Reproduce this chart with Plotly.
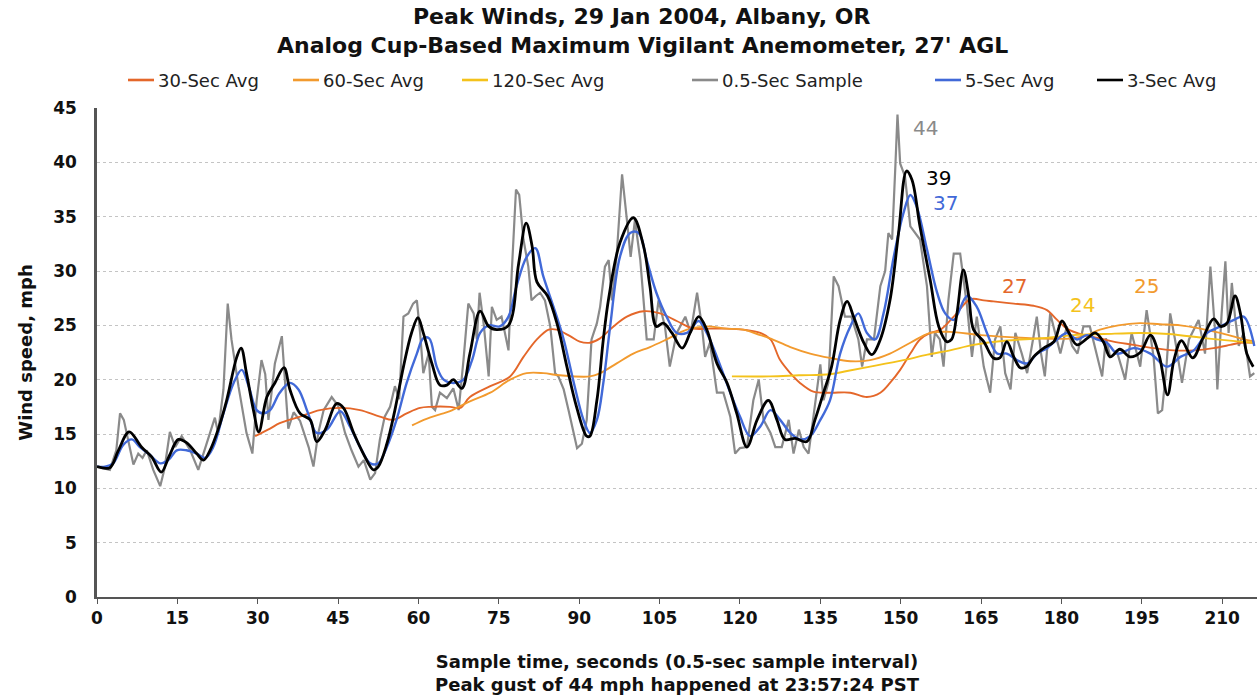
import plotly.graph_objects as go

# ---- 0.5-second raw samples (turning points), seconds / mph ----
sample_t = [0, 2.4, 3.6, 4.3, 5.0, 6.8, 7.7, 8.5, 9.3, 10.5, 11.8, 12.6, 13.6, 14.6, 15.8, 17.4,
            18.9, 19.9, 21.1, 22.0, 22.6, 23.6, 24.4, 25.1, 26.4, 27.9, 29.0, 29.8, 30.7, 31.4,
            32.0, 33.2, 34.5, 35.0, 35.7, 36.7, 37.9, 39.5, 40.4, 41.3, 42.3, 43.8, 45.0, 46.3,
            47.5, 48.8, 49.8, 51.0, 51.9, 52.8, 53.7, 54.7, 55.6, 56.4, 57.2, 58.1, 59.0, 59.7,
            60.3, 60.9, 61.9, 62.5, 63.1, 64.0, 65.3, 66.5, 67.5, 68.4, 69.3, 70.3, 70.9, 71.4,
            72.2, 73.1, 73.7, 74.6, 75.5, 76.8, 77.4, 78.2, 78.8, 79.6, 80.5, 81.1, 81.9, 82.7,
            83.6, 84.6, 85.5, 86.1, 87.1, 88.0, 88.9, 89.6, 90.5, 91.4, 92.3, 93.3, 93.9, 94.8,
            95.5, 96.1, 97.0, 98.0, 98.9, 99.6, 100.4, 101.4, 102.6, 103.9, 104.8, 106.0, 106.9,
            108.2, 109.8, 110.8, 112.0, 112.9, 113.5, 114.4, 115.7, 116.9, 118.2, 119.1, 120.0,
            121.3, 122.5, 123.5, 124.4, 125.7, 126.6, 127.8, 129.1, 130.0, 131.0, 131.9, 132.8,
            133.7, 135.0, 135.6, 136.5, 137.5, 138.4, 139.6, 140.8, 142.1, 142.8, 143.7, 145.0,
            146.2, 147.1, 147.7, 148.4, 149.0, 149.4, 149.9, 150.8, 151.8, 152.7, 153.6, 154.9,
            155.8, 156.4, 157.3, 158.0, 158.9, 159.9, 161.1, 162.4, 163.3, 164.2, 165.5, 166.7,
            167.6, 168.6, 169.5, 170.5, 171.4, 172.6, 173.6, 174.8, 175.4, 176.2, 176.9, 177.9,
            178.9, 179.8, 181.0, 182.0, 183.0, 184.1, 185.3, 186.6, 187.6, 188.3, 189.1, 190.4,
            191.9, 193.1, 194.7, 195.9, 197.2, 198.0, 198.8, 199.6, 200.3, 201.2, 202.5, 203.8,
            205.6, 206.8, 207.8, 208.7, 209.1, 209.9, 210.6, 211.2, 211.8, 212.4, 213.1, 214.0,
            215.2, 216.0]
sample_v = [12.0, 11.7, 13.5, 16.9, 16.3, 12.2, 13.2, 12.8, 13.5, 11.7, 10.2, 11.8, 15.2, 13.8, 14.8, 13.5,
            11.7, 13.2, 15.1, 16.5, 15.1, 19.1, 27.0, 23.7, 19.4, 15.1, 13.2, 18.1, 21.8, 20.5,
            16.3, 21.5, 24.0, 20.0, 15.5, 17.0, 16.2, 13.8, 12.0, 15.1, 17.2, 18.4, 17.6, 15.1,
            13.5, 12.0, 12.6, 10.8, 11.4, 14.5, 16.6, 17.5, 19.4, 18.2, 25.8, 26.1, 27.0, 27.3,
            24.3, 20.6, 22.4, 17.5, 17.2, 18.8, 18.3, 19.2, 17.2, 21.8, 27.0, 26.1, 23.7, 28.0,
            25.0, 20.3, 26.7, 25.5, 25.8, 22.7, 29.8, 37.5, 37.0, 32.9, 30.4, 27.3, 27.7, 28.0,
            27.3, 24.9, 20.6, 20.3, 19.1, 17.2, 15.1, 13.7, 14.1, 16.3, 23.7, 25.2, 26.7, 30.4,
            31.0, 27.3, 31.5, 38.9, 34.7, 31.3, 34.7, 31.0, 23.7, 23.7, 27.3, 24.9, 21.2,
            24.3, 25.8, 24.3, 28.0, 24.9, 22.1, 23.4, 18.8, 18.8, 16.6, 13.2, 13.7,
            13.8, 18.1, 20.0, 16.3, 15.1, 13.8, 13.8, 16.3, 13.2, 15.4, 13.8, 13.2,
            16.6, 21.4, 18.1, 19.7, 29.5, 28.6, 25.8, 25.8, 23.7, 21.2, 23.7, 23.7,
            28.6, 30.0, 33.5, 32.9, 39.6, 44.4, 39.9, 38.7, 34.1, 33.5, 32.9, 28.6,
            22.1, 24.3, 23.7, 21.2, 27.3, 31.6, 31.6, 26.7, 22.1, 25.8, 21.2, 18.8,
            23.7, 24.9, 20.6, 19.1, 24.3, 22.4, 20.6, 24.0, 25.8, 22.4, 20.3, 26.1,
            24.0, 22.4, 24.9, 23.1, 22.4, 24.9, 24.9, 22.4, 20.3, 23.8, 22.1, 22.5,
            20.0, 24.3, 21.2, 26.4, 22.1, 16.9, 17.2, 21.2, 26.1, 23.7, 19.7, 23.7,
            25.5, 22.4, 30.4, 24.3, 19.1, 26.1, 30.9, 24.3, 28.9, 25.8, 23.1, 24.3,
            20.3, 20.6]

# ---- 5-second running average ----
avg5_t = [0, 1.5, 3.0, 4.9, 6.5, 8.0, 9.6, 11.8, 13.3, 14.9, 16.7, 18.6, 20.2, 21.7, 23.6, 25.5,
          27.0, 28.3, 29.8, 31.0, 32.3, 34.1, 36.0, 37.6, 39.4, 41.0, 42.9, 45.4, 47.2, 49.1,
          51.0, 52.5, 54.1, 55.9, 57.8, 59.7, 60.9, 62.0, 63.4, 64.7, 66.5, 68.4, 70.0, 71.5,
          73.1, 75.2, 76.8, 78.3, 80.2, 81.8, 83.3, 85.2, 87.1, 89.0, 90.8, 92.0, 93.3, 94.5,
          95.8, 97.6, 99.5, 101.1, 102.6, 104.4, 106.3, 108.2, 110.1, 112.3, 113.8, 115.7,
          118.2, 120.0, 121.9, 123.8, 125.7, 127.5, 129.4, 131.2, 133.1, 135.0, 136.8, 138.7,
          140.6, 142.1, 143.7, 145.2, 146.8, 148.7, 150.5, 151.8, 153.0, 154.9, 156.8, 158.3,
          159.9, 162.4, 164.2, 166.1, 168.0, 169.8, 171.7, 173.6, 175.5, 177.3, 179.2, 181.0,
          182.9, 184.8, 186.6, 188.5, 190.4, 193.5, 196.6, 199.7, 202.2, 204.7, 207.2, 209.7,
          212.2, 214.0, 216.0]
avg5_v = [12.0, 12.0, 12.3, 14.0, 14.5, 13.8, 13.2, 12.3, 12.6, 13.5, 13.5, 13.2, 12.8, 13.8, 16.9, 19.7,
          20.9, 19.4, 17.2, 16.9, 17.2, 18.8, 19.7, 19.1, 16.9, 15.1, 15.4, 17.1, 15.7, 13.8,
          12.3, 12.3, 13.8, 16.3, 19.7, 22.4, 23.8, 23.8, 21.2, 20.0, 19.7, 20.0, 21.8, 24.3,
          25.0, 24.9, 25.8, 28.6, 31.3, 32.1, 29.5, 26.7, 23.7, 19.7, 16.3, 15.1, 16.3, 19.7,
          25.0, 31.3, 33.5, 33.5, 31.0, 28.0, 25.8, 24.3, 24.3, 25.4, 24.3, 22.1,
          18.8, 16.6, 14.8, 15.7, 17.2, 16.3, 15.1, 14.5, 14.8, 16.3, 18.1, 22.4,
          24.9, 26.1, 24.3, 23.7, 26.1, 31.3, 35.3, 37.0, 35.9, 32.0, 28.0, 26.1,
          25.5, 27.7, 26.7, 24.3, 22.4, 22.4, 21.8, 21.5, 22.4, 22.9, 23.7, 24.3,
          23.7, 24.1, 23.7, 23.4, 22.4, 22.9, 22.4, 21.2, 22.1, 22.7, 24.3, 24.9,
          25.5, 25.8, 23.1]

# ---- 3-second running average ----
avg3_t = [0, 2.4, 4.0, 6.0, 8.3, 10.2, 12.0, 13.5, 15.2, 16.7, 18.6, 19.9, 21.1, 22.6, 24.2, 26.1,
          26.9, 27.9, 29.2, 30.2, 31.7, 33.2, 34.9, 36.0, 37.9, 39.8, 41.0, 42.6, 44.7, 46.0,
          47.9, 49.7, 51.6, 52.5, 54.1, 55.6, 57.2, 58.7, 59.9, 60.9, 62.5, 64.0, 65.3, 66.5,
          68.1, 69.6, 71.5, 73.1, 74.6, 76.8, 78.7, 80.1, 81.2, 82.1, 84.1, 86.0, 87.7, 89.5,
          91.4, 92.0, 93.3, 94.5, 95.5, 97.6, 100.1, 102.0, 103.2, 104.4, 105.7, 107.3, 109.2,
          110.7, 112.3, 113.8, 115.7, 117.6, 119.4, 121.3, 123.2, 125.3, 126.9, 128.4, 130.3,
          132.5, 134.0, 135.6, 137.1, 138.7, 140.0, 141.2, 143.1, 144.6, 146.2, 148.0, 149.6,
          151.1, 152.1, 153.6, 155.5, 157.1, 158.6, 159.5, 160.5, 161.7, 162.7, 163.6, 165.5,
          167.3, 168.5, 169.8, 171.1, 172.3, 173.5, 174.8, 176.7, 178.6, 180.1, 181.3, 182.9,
          184.8, 186.3, 187.8, 189.1, 190.9, 192.8, 194.7, 196.6, 198.2, 199.8, 201.0, 202.4,
          204.5, 206.3, 208.4, 209.7, 210.9, 212.4, 213.4, 214.6, 215.8]
avg3_v = [12.0, 11.9, 13.5, 15.2, 13.8, 12.9, 11.5, 13.0, 14.5, 14.2, 13.2, 12.6, 13.5, 15.4, 18.1, 22.1,
          22.9, 20.6, 17.2, 15.2, 18.4, 19.7, 21.1, 19.1, 16.9, 16.3, 14.3, 15.4, 17.8, 17.4,
          15.1, 13.2, 11.7, 12.0, 14.1, 17.2, 21.2, 24.3, 25.7, 24.3, 21.5, 19.5, 19.5, 20.0,
          19.2, 22.4, 26.3, 24.9, 24.6, 25.0, 30.7, 34.4, 32.3, 29.0, 27.7, 24.9, 21.2, 17.5,
          14.8, 14.8, 18.1, 23.7, 27.5, 32.6, 34.9, 32.3, 28.6, 24.9, 25.2, 24.3, 22.9,
          24.3, 25.8, 24.6, 21.5, 19.7, 16.9, 13.8, 16.3, 18.1, 16.3, 14.5, 14.6,
          14.3, 16.3, 18.8, 21.2, 25.5, 27.2, 25.8, 23.4, 22.3, 23.7, 27.3, 33.5,
          39.2, 38.4, 34.1, 29.2, 24.9, 23.5, 23.7, 26.1, 30.1, 27.7, 24.6, 23.5,
          22.0, 22.0, 23.5, 22.1, 21.1, 21.2, 22.1, 22.9, 23.5, 25.4, 24.4, 23.2,
          23.8, 24.3, 23.5, 22.1, 22.8, 22.1, 22.5, 24.1, 22.3, 18.6, 21.8, 23.6,
          22.0, 23.7, 25.6, 24.9, 25.2, 27.7, 26.1, 22.4, 21.2]

# ---- 30-second running average ----
avg30_t = [29.5, 32.3, 34.1, 37.9, 41.6, 45.4, 49.1, 52.8, 55.3, 57.8, 60.3, 62.2, 65.9, 67.8, 69.6,
           73.4, 77.1, 79.6, 82.1, 84.3, 85.8, 88.3, 90.1, 92.0, 93.9, 96.4, 98.9, 102.0, 105.1,
           108.2, 111.3, 114.4, 117.5, 120.6, 123.8, 125.7, 127.5, 129.4, 131.2, 133.7, 136.8,
           140.6, 143.7, 146.2, 148.0, 149.9, 151.8, 153.6, 155.5, 157.4, 159.9, 163.0, 165.5,
           167.3, 171.1, 174.8, 177.3, 179.2, 181.0, 184.2, 187.2, 189.7, 193.5, 197.2, 201.0,
           204.7, 208.4, 211.5, 213.4, 216.0]
avg30_v = [14.8, 15.5, 16.0, 16.6, 17.2, 17.4, 17.2, 16.6, 16.3, 16.9, 17.4, 17.5, 17.5, 17.4, 18.4,
           19.4, 20.3, 22.1, 23.7, 24.6, 24.6, 24.0, 23.5, 23.4, 23.8, 24.9, 25.8, 26.3, 26.1,
           25.4, 24.7, 24.7, 24.7, 24.6, 24.3, 23.7, 21.8, 20.6, 19.7, 18.9, 18.8,
           18.8, 18.4, 18.8, 19.7, 20.9, 22.4, 23.7, 24.3, 24.6, 25.8, 27.4, 27.3,
           27.2, 27.0, 26.8, 26.4, 25.5, 24.7, 24.1, 23.8, 23.5, 23.2, 22.9, 22.7,
           22.7, 22.9, 23.2, 23.4, 23.4]

# ---- 60-second running average ----
avg60_t = [58.8, 61.5, 64.0, 65.9, 69.6, 73.4, 77.1, 80.2, 83.3, 86.4, 92.0, 93.9, 97.0, 100.1, 103.2,
           106.3, 110.1, 113.8, 117.5, 120.6, 123.8, 125.6, 129.4, 133.1, 136.8, 140.6, 144.3,
           148.0, 151.8, 155.5, 159.2, 165.0, 175.0, 182.0, 184.8, 187.2, 190.6, 194.6, 198.4,
           202.2, 205.9, 209.6, 213.4, 216.0]
avg60_v = [15.8, 16.4, 16.8, 17.1, 18.0, 18.8, 20.0, 20.6, 20.6, 20.4, 20.3, 20.6, 21.5, 22.4, 23.0,
           23.7, 24.6, 24.9, 24.7, 24.6, 24.1, 23.8, 23.0, 22.4, 22.0, 21.7, 21.8,
           22.4, 23.4, 24.3, 24.4, 24.1, 23.8, 23.8, 24.1, 24.6, 25.0, 25.2, 25.1,
           25.0, 24.7, 24.3, 23.8, 23.5]

# ---- 120-second running average ----
avg120_t = [118.5, 125.6, 131.0, 136.8, 140.0, 144.3, 150.5, 155.0, 159.2, 163.6, 169.9, 176.0,
            182.3, 188.0, 194.6, 200.0, 207.1, 213.4, 216.0]
avg120_v = [20.3, 20.3, 20.4, 20.5, 20.8, 21.2, 21.8, 22.3, 22.7, 23.2, 23.6, 23.8,
            24.1, 24.2, 24.3, 24.2, 23.8, 23.5, 23.4]

x_ticks = list(range(0, 211, 15))
y_ticks = list(range(0, 46, 5))

C30, C60, C120 = "#E4672A", "#F29A2E", "#F4C21B"
CGRAY, CBLUE, CBLACK = "#8A8A8A", "#4169D8", "#000000"

FONT = "DejaVu Sans"

# plot-area geometry in pixels (used to place the header texts)
W, H = 1259, 698
ML, MR, MT, MB = 97, 2, 108, 101
PW, PH = W - ML - MR, H - MT - MB


def px_x(p):
    return (p - ML) / PW


def px_y(p):
    return (H - MB - p) / PH


fig = go.Figure()


def add(name, t, v, color, width, shape="linear"):
    fig.add_trace(go.Scatter(
        x=t, y=v, mode="lines", name=name, showlegend=False,
        line=dict(color=color, width=width, shape=shape),
        hoverinfo="skip",
    ))


add("0.5-Sec Sample", sample_t, sample_v, CGRAY, 2.2)
add("30-Sec Avg", avg30_t, avg30_v, C30, 1.9, "spline")
add("60-Sec Avg", avg60_t, avg60_v, C60, 1.9, "spline")
add("120-Sec Avg", avg120_t, avg120_v, C120, 1.9, "spline")
add("5-Sec Avg", avg5_t, avg5_v, CBLUE, 2.4, "spline")
add("3-Sec Avg", avg3_t, avg3_v, CBLACK, 2.8, "spline")

# key row across the top: line swatch + label
key_items = [
    ("30-Sec Avg", C30, 128),
    ("60-Sec Avg", C60, 293),
    ("120-Sec Avg", C120, 462),
    ("0.5-Sec Sample", CGRAY, 692),
    ("5-Sec Avg", CBLUE, 935),
    ("3-Sec Avg", CBLACK, 1097),
]
KEY_Y = 80
for label, col, x0 in key_items:
    fig.add_shape(type="line", xref="paper", yref="paper",
                  x0=px_x(x0), x1=px_x(x0 + 26), y0=px_y(KEY_Y), y1=px_y(KEY_Y),
                  line=dict(color=col, width=2.6))
    fig.add_annotation(x=px_x(x0 + 28), y=px_y(KEY_Y), xref="paper", yref="paper",
                       text=label, showarrow=False, xanchor="left", yanchor="middle",
                       font=dict(family=FONT, size=18, color="#222"))

# two-line heading
for line, ypix in [("Peak Winds, 29 Jan 2004, Albany, OR", 17),
                   ("Analog Cup-Based Maximum Vigilant Anemometer, 27' AGL", 45)]:
    fig.add_annotation(x=px_x(642), y=px_y(ypix), xref="paper", yref="paper",
                       text=line, showarrow=False, xanchor="center", yanchor="middle",
                       font=dict(family=FONT, size=22, color="#111", weight="bold"))

# peak value callouts, text taken from each series maximum
callouts = [
    (sample_v, CGRAY, 154.6, 43.2),
    (avg3_v, CBLACK, 157.0, 38.6),
    (avg5_v, CBLUE, 158.3, 36.3),
    (avg30_v, C30, 171.2, 28.6),
    (avg120_v, C120, 183.9, 26.9),
    (avg60_v, C60, 195.8, 28.6),
]
for vals, col, ax_, ay_ in callouts:
    fig.add_annotation(
        x=ax_, y=ay_, xref="x", yref="y", text=str(int(max(vals))),
        showarrow=False, font=dict(family=FONT, size=20, color=col),
    )

fig.update_layout(
    width=W, height=H,
    margin=dict(l=ML, r=MR, t=MT, b=MB),
    paper_bgcolor="white", plot_bgcolor="white",
    showlegend=False,
)

fig.update_xaxes(
    range=[0, 216.5], tickvals=x_ticks, ticktext=[str(v) for v in x_ticks],
    showgrid=False, zeroline=False,
    showline=True, linecolor="#555", linewidth=1.5,
    ticks="outside", ticklen=5, tickcolor="#555", tickwidth=1.2,
    tickfont=dict(family=FONT, size=17, color="#111", weight="bold"),
    title=dict(text="Sample time, seconds (0.5-sec sample interval)<br>Peak gust of 44 mph happened at 23:57:24 PST",
               font=dict(family=FONT, size=18, color="#111", weight="bold"), standoff=28),
)
fig.update_yaxes(
    range=[0, 45], tickvals=y_ticks, ticktext=[str(v) for v in y_ticks],
    showgrid=True, gridcolor="#c4c4c4", griddash="dot", gridwidth=1,
    zeroline=False, showline=True, linecolor="#555", linewidth=2.5,
    ticks="", ticklabelstandoff=14,
    tickfont=dict(family=FONT, size=17, color="#111", weight="bold"),
    title=dict(text="Wind speed, mph", font=dict(family=FONT, size=18, color="#111", weight="bold"),
               standoff=16),
)

fig.write_html("out.html")
